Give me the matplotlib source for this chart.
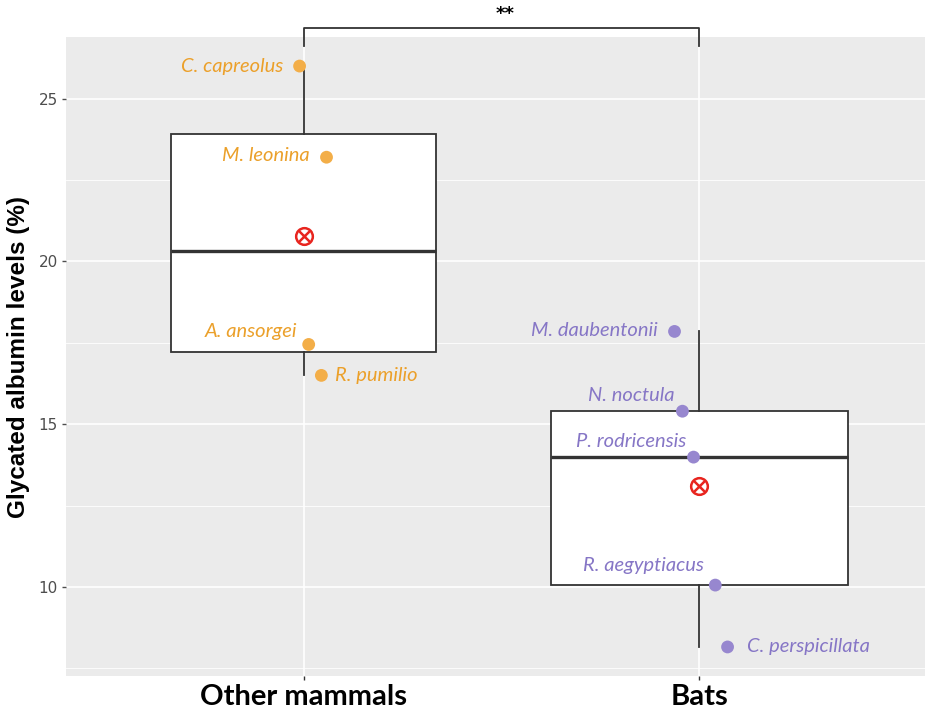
import matplotlib.pyplot as plt
import numpy as np

groups = ["Other mammals", "Bats"]

mammal_species = ["C. capreolus", "M. leonina", "A. ansorgei", "R. pumilio"]
mammal_values = [26.0, 23.2, 17.45, 16.5]
mammal_jitter = [-0.01, 0.058, 0.013, 0.045]

bat_species = ["M. daubentonii", "N. noctula", "P. rodricensis",
               "R. aegyptiacus", "C. perspicillata"]
bat_values = [17.85, 15.4, 13.99, 10.06, 8.16]
bat_jitter = [-0.063, -0.043, -0.015, 0.04, 0.071]

# label placement (offset points, alignment) per species
mammal_label_pos = [((-12, 0), "right"), ((-12, 1), "right"),
                    ((-8, 9), "right"), ((10, 0), "left")]
bat_label_pos = [((-12, 1), "right"), ((-6, 11), "right"), ((-5, 11), "right"),
                 ((-8, 14), "right"), ((14, 0), "left")]

signif = "**"

ORANGE = "#F3AE48"
ORANGE_TXT = "#EBA02A"
PURPLE = "#9787CF"
PURPLE_TXT = "#8676C6"
PANEL = "#EBEBEB"

fig = plt.figure(figsize=(9.25, 7.12), dpi=100)
ax = fig.add_axes([66 / 925, 36 / 712, 871 / 925, 639 / 712])
ax.set_facecolor(PANEL)

all_vals = mammal_values + bat_values
lo, hi = min(all_vals), max(all_vals)
pad = 0.05 * (hi - lo)
ax.set_ylim(lo - pad, hi + pad)
ax.set_xlim(0.4, 2.6)

# grid like ggplot theme_gray
for y in [7.5, 12.5, 17.5, 22.5]:
    ax.axhline(y, color="white", lw=0.6, zorder=0)
for y in [10, 15, 20, 25]:
    ax.axhline(y, color="white", lw=1.2, zorder=0)
for x in [1, 2]:
    ax.axvline(x, color="white", lw=1.2, zorder=0)

bp = ax.boxplot([mammal_values, bat_values], positions=[1, 2],
                widths=[0.67, 0.75], whis=1.5, patch_artist=True,
                showfliers=False, showcaps=False, zorder=2)
for b in bp["boxes"]:
    b.set_facecolor("white")
    b.set_edgecolor("#333333")
    b.set_linewidth(1.3)
for w in bp["whiskers"]:
    w.set_color("#333333")
    w.set_linewidth(1.3)
for m in bp["medians"]:
    m.set_color("#333333")
    m.set_linewidth(2.4)

for pos, vals, jit, names, lpos, col, tcol in [
    (1, mammal_values, mammal_jitter, mammal_species, mammal_label_pos, ORANGE, ORANGE_TXT),
    (2, bat_values, bat_jitter, bat_species, bat_label_pos, PURPLE, PURPLE_TXT),
]:
    xs = [pos + j for j in jit]
    ax.scatter(xs, vals, s=85, color=col, edgecolor="none", zorder=4)
    for x, y, name, (off, ha) in zip(xs, vals, names, lpos):
        ax.annotate(name, (x, y), xytext=off, textcoords="offset points",
                    ha=ha, va="center", color=tcol, fontsize=14.5,
                    style="italic", family="Lato", zorder=5)
    mean = np.mean(vals)
    ax.plot(pos, mean, marker="o", ms=12, mfc="none", mec="#E8251F",
            mew=1.8, zorder=5)
    ax.plot(pos, mean, marker="x", ms=8.5, mec="#E8251F", mew=1.8, zorder=5)

# significance bracket
yb, yl = 27.18, 26.63
ax.plot([1, 1, 2, 2], [yl, yb, yb, yl], color="#333333", lw=1.3,
        clip_on=False, zorder=6)
ax.text(1.51, yb + 0.15, signif, ha="center", va="bottom", fontsize=13,
        fontweight="bold", color="black")

ax.set_xticks([1, 2])
ax.set_xticklabels(groups, fontsize=21, fontweight="bold", family="Lato")
ax.set_yticks([10, 15, 20, 25])
ax.tick_params(axis="y", labelsize=11, colors="#4D4D4D", length=3,
               width=1, pad=3)
ax.tick_params(axis="x", colors="#333333", length=3, width=1, pad=3)
for lab in ax.get_xticklabels():
    lab.set_color("black")
ax.set_ylabel("Glycated albumin levels (%)", fontsize=17.5, fontweight="bold",
              family="Liberation Sans", labelpad=6)
for s in ax.spines.values():
    s.set_visible(False)

plt.savefig("out.png", dpi=100)
